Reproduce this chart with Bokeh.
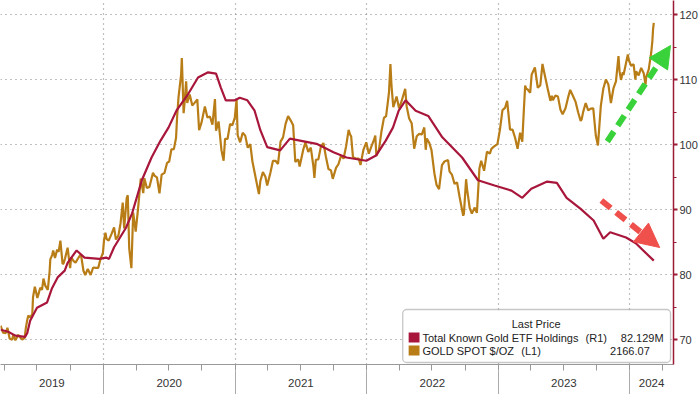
import pandas as pd
from bokeh.plotting import figure
from bokeh.models import (Range1d, LinearAxis, DatetimeAxis, FixedTicker, Label,
                          BoxAnnotation, Arrow, NormalHead, ColumnDataSource, Grid,
                          DatetimeTickFormatter)
from bokeh.embed import file_html
from bokeh.resources import INLINE

# ---------------- data ----------------
etf_dates = ["2019-03-22", "2019-04-12", "2019-05-02", "2019-05-29", "2019-06-04", "2019-06-12",
             "2019-07-01", "2019-07-29", "2019-08-11", "2019-08-28", "2019-09-16", "2019-09-24",
             "2019-10-19", "2019-11-10", "2019-12-21", "2020-01-09", "2020-01-17", "2020-01-31",
             "2020-03-04", "2020-03-21", "2020-04-17", "2020-05-14", "2020-06-08", "2020-06-30",
             "2020-07-22", "2020-08-24", "2020-09-20", "2020-10-18", "2020-11-09", "2020-11-22",
             "2020-12-06", "2020-12-31", "2021-01-14", "2021-02-04", "2021-02-24", "2021-03-12",
             "2021-03-31", "2021-05-06", "2021-06-02", "2021-06-30", "2021-08-15", "2021-10-01",
             "2021-11-06", "2021-12-31", "2022-01-27", "2022-02-23", "2022-03-15", "2022-03-31",
             "2022-04-19", "2022-05-17", "2022-06-21", "2022-07-30", "2022-09-23", "2022-11-06",
             "2022-12-22", "2023-02-07", "2023-03-09", "2023-04-03", "2023-05-17", "2023-06-13",
             "2023-07-10", "2023-08-18", "2023-09-23", "2023-10-20", "2023-11-08", "2023-12-22",
             "2024-01-18", "2024-03-08"]
etf_vals = [71.5, 71.2, 70.6, 70.4, 71.0, 72.9,
            74.9, 75.7, 77.8, 79.6, 80.6, 81.8,
            83.7, 82.6, 82.4, 82.6, 82.4, 84.2,
            87.2, 89.4, 94.5, 98.0, 100.6, 102.6,
            105.2, 107.8, 110.3, 111.1, 110.9, 108.8,
            106.8, 106.8, 107.2, 106.8, 105.2, 102.2,
            99.6, 99.1, 100.9, 100.6, 100.1, 98.8,
            98.0, 97.5, 98.3, 100.6, 102.6, 105.2,
            106.8, 105.2, 104.4, 101.1, 98.0, 94.5,
            93.7, 92.9, 91.8, 93.2, 94.3, 94.1,
            91.8, 90.1, 88.3, 85.5, 86.5, 85.7,
            84.8, 82.129]

gold_dates = [
    "2019-03-22", "2019-03-29", "2019-04-05", "2019-04-10", "2019-04-16", "2019-04-23", "2019-04-26",
    "2019-05-02", "2019-05-10", "2019-05-17", "2019-05-21", "2019-05-28", "2019-05-31", "2019-06-04",
    "2019-06-07", "2019-06-12", "2019-06-18", "2019-06-20", "2019-06-25", "2019-06-28", "2019-07-02",
    "2019-07-05", "2019-07-10", "2019-07-15", "2019-07-19", "2019-07-24", "2019-07-31", "2019-08-05",
    "2019-08-07", "2019-08-12", "2019-08-15", "2019-08-20", "2019-08-26", "2019-08-30", "2019-09-04",
    "2019-09-10", "2019-09-13", "2019-09-17", "2019-09-24", "2019-10-01", "2019-10-04", "2019-10-10",
    "2019-10-16", "2019-10-25", "2019-10-31", "2019-11-07", "2019-11-12", "2019-11-19", "2019-11-27",
    "2019-12-04", "2019-12-11", "2019-12-18", "2019-12-24", "2019-12-31",
    "2020-01-03", "2020-01-07", "2020-01-10", "2020-01-16", "2020-01-24", "2020-01-31", "2020-02-05",
    "2020-02-12", "2020-02-18", "2020-02-24", "2020-02-28", "2020-03-06", "2020-03-09", "2020-03-13",
    "2020-03-19", "2020-03-24", "2020-03-31", "2020-04-07", "2020-04-14", "2020-04-21", "2020-04-24",
    "2020-05-01", "2020-05-08", "2020-05-18", "2020-05-22", "2020-05-29", "2020-06-05", "2020-06-11",
    "2020-06-19", "2020-06-26", "2020-07-02", "2020-07-08", "2020-07-15", "2020-07-21", "2020-07-24",
    "2020-07-28", "2020-08-04", "2020-08-06", "2020-08-11", "2020-08-14", "2020-08-18", "2020-08-21",
    "2020-08-28", "2020-09-04", "2020-09-11", "2020-09-18", "2020-09-23", "2020-09-30", "2020-10-09",
    "2020-10-16", "2020-10-23", "2020-10-30", "2020-11-06", "2020-11-09", "2020-11-16", "2020-11-24",
    "2020-11-30", "2020-12-04", "2020-12-11", "2020-12-18", "2020-12-24", "2020-12-31",
    "2021-01-05", "2021-01-08", "2021-01-15", "2021-01-22", "2021-01-29", "2021-02-05", "2021-02-12",
    "2021-02-18", "2021-02-26", "2021-03-05", "2021-03-08", "2021-03-12", "2021-03-19", "2021-03-26",
    "2021-03-31", "2021-04-09", "2021-04-16", "2021-04-23", "2021-04-30", "2021-05-07", "2021-05-14",
    "2021-05-21", "2021-05-28", "2021-06-04", "2021-06-11", "2021-06-17", "2021-06-25", "2021-06-29",
    "2021-07-09", "2021-07-15", "2021-07-23", "2021-07-30", "2021-08-06", "2021-08-09", "2021-08-13",
    "2021-08-20", "2021-08-27", "2021-09-03", "2021-09-10", "2021-09-17", "2021-09-24", "2021-09-29",
    "2021-10-08", "2021-10-15", "2021-10-22", "2021-10-29", "2021-11-05", "2021-11-12", "2021-11-16",
    "2021-11-19", "2021-11-24", "2021-12-03", "2021-12-10", "2021-12-15", "2021-12-23", "2021-12-31",
    "2022-01-07", "2022-01-14", "2022-01-21", "2022-01-25", "2022-01-28", "2022-02-04", "2022-02-11",
    "2022-02-18", "2022-02-24", "2022-03-01", "2022-03-04", "2022-03-08", "2022-03-11", "2022-03-16",
    "2022-03-25", "2022-04-01", "2022-04-08", "2022-04-18", "2022-04-22", "2022-04-29", "2022-05-06",
    "2022-05-13", "2022-05-20", "2022-05-27", "2022-06-03", "2022-06-10", "2022-06-14", "2022-06-17",
    "2022-06-24", "2022-06-30", "2022-07-08", "2022-07-14", "2022-07-21", "2022-07-29", "2022-08-05",
    "2022-08-15", "2022-08-19", "2022-08-26", "2022-09-02", "2022-09-09", "2022-09-16", "2022-09-26",
    "2022-09-28", "2022-10-04", "2022-10-07", "2022-10-14", "2022-10-20", "2022-10-28", "2022-11-03",
    "2022-11-10", "2022-11-15", "2022-11-23", "2022-12-01", "2022-12-09", "2022-12-13", "2022-12-20",
    "2022-12-30",
    "2023-01-06", "2023-01-13", "2023-01-20", "2023-01-26", "2023-02-03", "2023-02-10", "2023-02-17",
    "2023-02-24", "2023-03-03", "2023-03-09", "2023-03-13", "2023-03-17", "2023-03-20", "2023-03-24",
    "2023-03-31", "2023-04-04", "2023-04-13", "2023-04-21", "2023-04-28", "2023-05-03", "2023-05-04",
    "2023-05-12", "2023-05-19", "2023-05-26", "2023-05-30", "2023-06-02", "2023-06-09", "2023-06-16",
    "2023-06-23", "2023-06-29", "2023-07-07", "2023-07-14", "2023-07-20", "2023-07-28", "2023-08-04",
    "2023-08-11", "2023-08-18", "2023-08-21", "2023-08-25", "2023-09-01", "2023-09-08", "2023-09-15",
    "2023-09-22", "2023-09-29", "2023-10-05", "2023-10-13", "2023-10-20", "2023-10-27", "2023-11-03",
    "2023-11-10", "2023-11-17", "2023-11-24", "2023-12-01", "2023-12-04", "2023-12-08", "2023-12-13",
    "2023-12-15", "2023-12-22", "2023-12-27", "2023-12-29",
    "2024-01-05", "2024-01-12", "2024-01-17", "2024-01-19", "2024-01-26", "2024-02-02", "2024-02-09",
    "2024-02-14", "2024-02-16", "2024-02-23", "2024-03-01", "2024-03-04", "2024-03-06", "2024-03-08"]
gold_vals = [
    1312, 1292, 1291, 1306, 1276, 1272, 1286,
    1271, 1286, 1277, 1273, 1278, 1305, 1328,
    1341, 1335, 1345, 1392, 1422, 1409, 1390,
    1400, 1419, 1413, 1445, 1425, 1413, 1464,
    1499, 1511, 1524, 1503, 1527, 1520, 1552,
    1486, 1488, 1502, 1532, 1474, 1505, 1495,
    1490, 1505, 1513, 1467, 1455, 1472, 1455,
    1476, 1475, 1475, 1499, 1517,
    1552, 1574, 1557, 1552, 1571, 1589, 1555,
    1566, 1601, 1659, 1586, 1672, 1680, 1530,
    1474, 1631, 1577, 1647, 1727, 1686, 1728,
    1700, 1703, 1743, 1735, 1730, 1685, 1738,
    1743, 1771, 1775, 1809, 1810, 1842, 1902,
    1958, 2019, 2067, 1911, 1944, 2001, 1940,
    1964, 1933, 1941, 1950, 1863, 1886, 1930,
    1899, 1902, 1879, 1951, 1862, 1888, 1807,
    1777, 1839, 1839, 1881, 1877, 1898,
    1950, 1849, 1829, 1856, 1848, 1814, 1824,
    1775, 1734, 1698, 1683, 1720, 1745, 1732,
    1707, 1744, 1777, 1777, 1768, 1831, 1843,
    1881, 1903, 1891, 1877, 1774, 1781, 1761,
    1808, 1829, 1802, 1814, 1763, 1729, 1780,
    1781, 1817, 1827, 1788, 1754, 1750, 1726,
    1757, 1768, 1792, 1783, 1818, 1864, 1851,
    1846, 1788, 1783, 1783, 1765, 1808, 1829,
    1797, 1817, 1835, 1848, 1791, 1807, 1859,
    1898, 1903, 1944, 1970, 2050, 1988, 1928,
    1958, 1925, 1945, 1980, 1931, 1896, 1883,
    1811, 1846, 1853, 1851, 1871, 1808, 1840,
    1827, 1807, 1742, 1709, 1697, 1765, 1775,
    1779, 1747, 1737, 1712, 1716, 1675, 1622,
    1628, 1725, 1695, 1644, 1628, 1645, 1630,
    1755, 1777, 1749, 1803, 1797, 1810, 1817,
    1824,
    1865, 1920, 1926, 1946, 1865, 1865, 1842,
    1811, 1856, 1831, 1913, 1989, 1980, 1978,
    1969, 2020, 2040, 1983, 1990, 2039, 2050,
    2011, 1978, 1946, 1960, 1948, 1961, 1958,
    1921, 1908, 1925, 1955, 1977, 1959, 1943,
    1914, 1889, 1895, 1915, 1940, 1919, 1924,
    1925, 1849, 1820, 1932, 1981, 2006, 1992,
    1940, 1981, 2001, 2072, 2029, 2005, 2027,
    2019, 2053, 2077, 2063,
    2045, 2049, 2006, 2029, 2018, 2039, 2024,
    1992, 2013, 2035, 2083, 2114, 2148, 2166.07]

etf_name = "Total Known Gold ETF Holdings"
gold_name = "GOLD SPOT $/OZ"
years = [2019, 2020, 2021, 2022, 2023, 2024]
r_ticks = [70, 80, 90, 100, 110, 120]
r_minor = [75, 85, 95, 105, 115]

# ---------------- styles ----------------
FONT = "Liberation Sans"
ETF_C = "#a8173b"
GOLD_C = "#b97d17"
AXIS_C = "#9b1b35"
GRID_C = "#808080"
GREEN = "#3ad23a"
RED = "#f0504c"

# layout helpers: reference pixel -> data coordinates (ranges & annotations only)
X_ORIGIN = pd.Timestamp("2020-01-01")
X_ORIGIN_PX = 104.0
DAYS_PER_PX = 2.743
def ax(px):
    return (X_ORIGIN + pd.Timedelta(days=(px - X_ORIGIN_PX) * DAYS_PER_PX)).timestamp() * 1000
def ay(py):
    return 120 - (py - 14) / 6.5
def agold(py):
    return 2229 - 2.82 * py

def ms(s):
    return pd.Timestamp(s).timestamp() * 1000

p = figure(width=700, height=394, output_backend="svg", toolbar_location=None,
           x_axis_type=None, y_axis_type=None,
           x_range=Range1d(ax(0), ax(681)), y_range=Range1d(ay(364), ay(0)),
           min_border_left=0, min_border_top=0, min_border_right=0, min_border_bottom=30,
           outline_line_color=None, background_fill_color="white")
p.title.visible = False
p.extra_y_ranges = {"gold": Range1d(agold(364), agold(0))}

year_ms = [ms(f"{y}-01-01") for y in years]
quarter_ms = [ms(f"{y}-{m:02d}-01") for y in years for m in (1, 4, 7, 10)]
x0, x1 = ax(0), ax(681)
year_mid = [(max(ms(f"{y}-01-01"), x0) + min(ms(f"{y + 1}-01-01"), x1)) / 2 for y in years]

p.add_layout(Grid(dimension=0, ticker=FixedTicker(ticks=year_ms),
                  grid_line_color=GRID_C, grid_line_dash="1 4", grid_line_width=1.2))
p.add_layout(Grid(dimension=1, ticker=FixedTicker(ticks=r_ticks),
                  grid_line_color=GRID_C, grid_line_dash="1 4", grid_line_width=1.2))

gsrc = ColumnDataSource(dict(d=pd.to_datetime(gold_dates), v=gold_vals))
esrc = ColumnDataSource(dict(d=pd.to_datetime(etf_dates), v=etf_vals))
p.line("d", "v", source=gsrc, y_range_name="gold", line_color=GOLD_C, line_width=2.2)
p.line("d", "v", source=esrc, line_color=ETF_C, line_width=2.2)

# bottom axis: quarterly short ticks
xa = LinearAxis(ticker=FixedTicker(ticks=[], minor_ticks=quarter_ms),
                major_label_standoff=0, major_tick_in=0, major_tick_out=0,
                minor_tick_in=0, minor_tick_out=6,
                axis_line_color="#999999", minor_tick_line_color="#999999")
p.add_layout(xa, "below")
# bottom axis: year labels centred in each year, long separators at year starts
xb = DatetimeAxis(ticker=FixedTicker(ticks=year_mid, minor_ticks=year_ms),
                  formatter=DatetimeTickFormatter(years="%Y", months="%Y", days="%Y",
                                                  hours="%Y", context=None),
                  major_label_standoff=-20, major_tick_in=0, major_tick_out=0,
                  minor_tick_in=0, minor_tick_out=28,
                  axis_line_color=None, minor_tick_line_color="#aaaaaa",
                  major_label_text_font=FONT, major_label_text_font_size="11.5px",
                  major_label_text_color="#333333")
p.add_layout(xb, "below")

yaxis = LinearAxis(ticker=FixedTicker(ticks=r_ticks, minor_ticks=r_minor),
                   major_label_standoff=2, major_tick_in=0, major_tick_out=4,
                   minor_tick_in=0, minor_tick_out=3,
                   axis_line_color=AXIS_C, axis_line_width=1.5,
                   major_tick_line_color=AXIS_C, major_tick_line_width=2,
                   minor_tick_line_color=AXIS_C,
                   major_label_text_font=FONT, major_label_text_font_size="11px",
                   major_label_text_color="#333333")
p.add_layout(yaxis, "right")

# trend arrows
p.add_layout(Arrow(x_start=ax(614), y_start=ay(141), x_end=ax(678), y_end=ay(45),
                   line_color=GREEN, line_width=6, line_dash="12 7",
                   end=NormalHead(size=22, fill_color=GREEN, line_color=GREEN, line_width=1)))
p.add_layout(Arrow(x_start=ax(608), y_start=ay(200), x_end=ax(667), y_end=ay(247),
                   line_color=RED, line_width=6, line_dash="12 7",
                   end=NormalHead(size=24, fill_color=RED, line_color=RED, line_width=1)))

# legend box
p.add_layout(BoxAnnotation(left=ax(407), right=ax(678), top=ay(309), bottom=ay(362),
                           fill_color="white", fill_alpha=1, line_color="#444444",
                           line_width=1.3, border_radius=4))
p.add_layout(BoxAnnotation(left=ax(413), right=ax(424), top=ay(332), bottom=ay(342),
                           fill_color=ETF_C, fill_alpha=1, line_color=None))
p.add_layout(BoxAnnotation(left=ax(413), right=ax(424), top=ay(345), bottom=ay(355),
                           fill_color=GOLD_C, fill_alpha=1, line_color=None))
lt = dict(text_font=FONT, text_font_size="11px", text_color="#222222", text_baseline="middle")
p.add_layout(Label(x=ax(542), y=ay(323), text="Last Price", text_align="center", **lt))
p.add_layout(Label(x=ax(427), y=ay(337), text=etf_name, **lt))
p.add_layout(Label(x=ax(592), y=ay(337), text="(R1)", **lt))
p.add_layout(Label(x=ax(671), y=ay(337), text=f"{etf_vals[-1]:.3f}M", text_align="right", **lt))
p.add_layout(Label(x=ax(427), y=ay(350), text=gold_name, **lt))
p.add_layout(Label(x=ax(527), y=ay(350), text="(L1)", **lt))
p.add_layout(Label(x=ax(657), y=ay(350), text=f"{gold_vals[-1]:.2f}", text_align="right", **lt))

open("out.html", "w").write(file_html(p, INLINE))
